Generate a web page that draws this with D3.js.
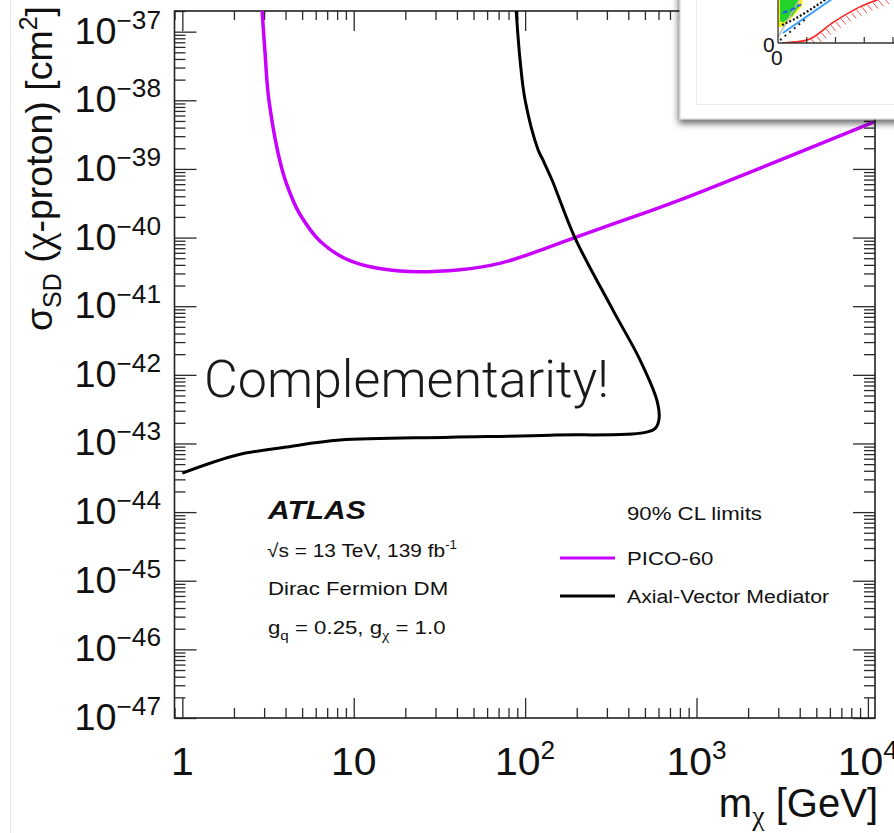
<!DOCTYPE html>
<html>
<head>
<meta charset="utf-8">
<script src="https://cdn.jsdelivr.net/npm/d3@7"></script>
<style>
  html, body { margin: 0; padding: 0; background: #fff; }
  svg { display: block; }
</style>
</head>
<body>
<svg id="chart" width="894" height="833"></svg>
<script>
// ---- limit curves: dark-matter mass (GeV) vs spin-dependent cross-section (cm^2) ----
const picoMass  = [2.92, 3.03, 3.20, 3.81, 4.42, 4.88, 6.35, 9.5, 18.6, 41.7, 71, 122, 195, 513, 796, 10800];
const picoSigma = [2.0e-37, 5.4e-38, 1.0e-38, 1.0e-39, 3.5e-40, 2.13e-40, 8.9e-41, 4.6e-41, 3.25e-41, 3.4e-41, 4.2e-41, 6.5e-41, 1.0e-40, 2.35e-40, 3.5e-40, 4.8e-39];

const avMass  = [88.7, 93.4, 100, 119, 127, 143.5, 195, 326, 468, 588, 603, 564, 140, 36.5, 8.3, 4.08, 2.09, 1.0];
const avSigma = [2.0e-37, 3.9e-38, 1.0e-38, 1.9e-39, 1.35e-39, 6.9e-40, 1.0e-40, 8.7e-42, 1.65e-42, 4.2e-43, 2.2e-43, 1.6e-43, 1.32e-43, 1.23e-43, 1.12e-43, 8.9e-44, 6.8e-44, 3.7e-44];

// ---- axes ----
const xMajorValues = [1, 10, 100, 1000, 10000];
const xMajorBase   = ["1", "10", "10", "10", "10"];
const xMajorExp    = ["", "", "2", "3", "4"];
const yExponents   = [-37, -38, -39, -40, -41, -42, -43, -44, -45, -46, -47];

// ---- legend / annotation text ----
const legendHeader = "90% CL limits";
const legendNames  = ["PICO-60", "Axial-Vector Mediator"];
const legendColors = ["#c800ff", "#000000"];

// ---- small overlaid panel (partial view of another limit plot) ----
const insetRedX   = [0.14, 1.0, 1.93, 2.85, 3.44, 3.7];
const insetRedY   = [0.0, 0.1, 0.73, 1.26, 1.5, 1.6];
const insetBlueX  = [0.17, 1.9];
const insetBlueY  = [0.35, 1.55];
const insetGreyX  = [0.0, 0.76];
const insetGreyY  = [0.2, 1.55];
const insetDotLoX = [0.07, 1.0];
const insetDotLoY = [0.1, 0.87];
const insetDotHiX = [0.14, 0.6, 1.1, 1.7];
const insetDotHiY = [0.63, 0.85, 1.15, 1.55];
const insetDashX  = [0.17, 0.45, 0.8];
const insetDashY  = [1.05, 1.15, 1.35];
const insetYellowX = [0.0, 0.14, 0.5, 0.85, 0.85, 0.0];
const insetYellowY = [0.55, 0.55, 0.9, 1.3, 1.6, 1.6];
const insetGreenX  = [0.07, 0.2, 0.5, 0.7, 0.7, 0.07];
const insetGreenY  = [0.75, 0.72, 0.95, 1.25, 1.6, 1.6];
const insetTicks   = [1, 2, 3, 4];

const svg = d3.select("#chart");
const W = 894, H = 833;
const frame = { left: 174.5, right: 875, top: 11, bottom: 718 };
const rootFont = "'Liberation Sans', Arial, Helvetica, sans-serif";
const greekFont = "'Liberation Serif', 'Times New Roman', serif";
const SX = 1.17; // horizontal stretch of the plot's lettering

// page edge line
svg.append("line")
  .attr("x1", 10.5).attr("x2", 10.5).attr("y1", 0).attr("y2", H)
  .attr("stroke", "#e6e6e6").attr("stroke-width", 1);

const x = d3.scaleLog().domain([0.9, 1.1e4]).range([frame.left, frame.right]);
const y = d3.scaleLog().domain([1e-47, 2e-37]).range([frame.bottom, frame.top]);

// minor tick values
const xMinor = [];
for (let d = -1; d <= 4; d++) for (let k = 2; k <= 9; k++) {
  const v = k * Math.pow(10, d);
  if (v >= 0.9 && v <= 1.1e4) xMinor.push(v);
}
const yMinor = [];
for (let e = -47; e <= -37; e++) for (let k = 2; k <= 9; k++) {
  const v = k * Math.pow(10, e);
  if (v <= 2e-37) yMinor.push(v);
}
const yMajor = yExponents.map(e => Math.pow(10, e));

function tickAxis(gen, tx, ty, values, size) {
  const g = svg.append("g").attr("transform", `translate(${tx},${ty})`)
    .call(gen.tickValues(values).tickSizeInner(-size).tickSizeOuter(0).tickFormat(() => ""));
  g.select(".domain").remove();
  g.selectAll(".tick line").attr("stroke", "#2a2a2a").attr("stroke-width", 1.3);
  g.selectAll(".tick text").remove();
  return g;
}

// ticks on all four sides, pointing inwards
tickAxis(d3.axisBottom(x), 0, frame.bottom, xMajorValues, 20);
tickAxis(d3.axisBottom(x), 0, frame.bottom, xMinor, 10);
tickAxis(d3.axisTop(x), 0, frame.top, xMajorValues, 20);
tickAxis(d3.axisTop(x), 0, frame.top, xMinor, 9);
tickAxis(d3.axisLeft(y), frame.left, 0, yMajor, 22);
tickAxis(d3.axisLeft(y), frame.left, 0, yMinor, 11);
tickAxis(d3.axisRight(y), frame.right, 0, yMajor, 22);
tickAxis(d3.axisRight(y), frame.right, 0, yMinor, 11);

// frame
svg.append("rect")
  .attr("x", frame.left).attr("y", frame.top)
  .attr("width", frame.right - frame.left).attr("height", frame.bottom - frame.top)
  .attr("fill", "none").attr("stroke", "#222").attr("stroke-width", 1.6);

// clip for the curves
svg.append("clipPath").attr("id", "plotClip")
  .append("rect").attr("x", frame.left).attr("y", frame.top)
  .attr("width", frame.right - frame.left).attr("height", frame.bottom - frame.top);

const plot = svg.append("g").attr("clip-path", "url(#plotClip)");

const curveLine = d3.line().x(d => x(d[0])).y(d => y(d[1])).curve(d3.curveCatmullRom.alpha(0.5));

plot.append("path")
  .datum(picoMass.map((m, i) => [m, picoSigma[i]]))
  .attr("d", curveLine)
  .attr("fill", "none").attr("stroke", legendColors[0]).attr("stroke-width", 3.5);

plot.append("path")
  .datum(avMass.map((m, i) => [m, avSigma[i]]))
  .attr("d", curveLine)
  .attr("fill", "none").attr("stroke", legendColors[1]).attr("stroke-width", 3)
  .attr("stroke-linejoin", "round");

// helper for stretched lettering
function label(x0, y0, anchor, size, parts, opts = {}) {
  const t = svg.append("text")
    .attr("transform", `translate(${x0},${y0}) scale(${opts.sx || SX},1)`)
    .attr("text-anchor", anchor)
    .attr("font-family", rootFont)
    .attr("font-size", size)
    .attr("fill", opts.fill || "#111");
  if (opts.weight) t.attr("font-weight", opts.weight);
  if (opts.style) t.attr("font-style", opts.style);
  parts.forEach(p => {
    const s = t.append("tspan").text(p.text);
    if (p.size) s.attr("font-size", p.size);
    if (p.dy) s.attr("dy", p.dy);
    if (p.greek) s.attr("font-family", greekFont);
  });
  return t;
}

// x tick labels
xMajorValues.forEach((v, i) => {
  const parts = [{ text: xMajorBase[i] }];
  if (xMajorExp[i]) parts.push({ text: xMajorExp[i], size: 25, dy: -16 });
  label(x(v), 775, "middle", 39, parts, { sx: 1.05 });
});

// y tick labels
yExponents.forEach(e => {
  label(161, y(Math.pow(10, e)) + 12, "end", 36,
    [{ text: "10" }, { text: "\u2212" + (-e), size: 25, dy: -15 }], { sx: 1.05 });
});

// x axis title
label(878, 817, "end", 40,
  [{ text: "m" }, { text: "\u03c7", size: 28, dy: 8, greek: true }, { text: " [GeV]", dy: -8 }], { sx: 1.0 });

// y axis title (rotated)
svg.append("text")
  .attr("transform", "translate(52,6) rotate(-90)")
  .attr("text-anchor", "end")
  .attr("font-family", rootFont).attr("font-size", 37.5).attr("fill", "#111")
  .call(t => {
    t.append("tspan").text("\u03c3");
    t.append("tspan").text("SD").attr("font-size", 25).attr("dy", 9);
    t.append("tspan").text(" (").attr("dy", -9);
    t.append("tspan").text("\u03c7").attr("font-family", greekFont).attr("font-size", 40);
    t.append("tspan").text("-proton) [cm");
    t.append("tspan").text("2").attr("font-size", 25).attr("dy", -15);
    t.append("tspan").text("]").attr("dy", 15);
  });

// experiment block
label(268, 519, "start", 25, [{ text: "ATLAS" }], { weight: "bold", style: "italic", sx: 1.2 });
label(267, 557, "start", 19, [{ text: "\u221as = 13 TeV, 139 fb" }, { text: "-1", size: 12, dy: -8 }], { sx: 1.1 });
label(268, 595, "start", 19, [{ text: "Dirac Fermion DM" }]);
label(268, 634, "start", 19, [{ text: "g" }, { text: "q", size: 13, dy: 6 }, { text: " = 0.25, g", dy: -6 },
  { text: "\u03c7", size: 14, dy: 6, greek: true }, { text: " = 1.0", dy: -6 }]);

// legend
label(627, 520, "start", 19, [{ text: legendHeader }]);
legendNames.forEach((n, i) => {
  const ly = 558 + i * 38;
  svg.append("line").attr("x1", 560).attr("x2", 615).attr("y1", ly).attr("y2", ly)
    .attr("stroke", legendColors[i]).attr("stroke-width", 3.2);
  label(627, ly + 7, "start", 19, [{ text: n }], { sx: i === 1 ? 1.12 : SX });
});

// slide annotation
svg.append("text")
  .attr("x", 204).attr("y", 397)
  .attr("font-family", "Roboto, 'Open Sans', sans-serif")
  .attr("font-weight", 300).attr("font-size", 52).attr("fill", "#1a1a1a")
  .text("Complementarity!");

// ---- overlaid panel in the top right corner ----
const defs = svg.append("defs");
const shadow = defs.append("filter").attr("id", "panelShadow")
  .attr("x", "-20%").attr("y", "-20%").attr("width", "140%").attr("height", "140%");
shadow.append("feGaussianBlur").attr("in", "SourceAlpha").attr("stdDeviation", 3.5);
shadow.append("feOffset").attr("dx", -1).attr("dy", 4).attr("result", "ob");
shadow.append("feComponentTransfer").append("feFuncA").attr("type", "linear").attr("slope", 0.6);
const fm = shadow.append("feMerge");
fm.append("feMergeNode");
fm.append("feMergeNode").attr("in", "SourceGraphic");

const panel = svg.append("g");
panel.append("rect")
  .attr("x", 680).attr("y", -10).attr("width", 230).attr("height", 129)
  .attr("fill", "#fff").attr("stroke", "#d0d0d0").attr("stroke-width", 1)
  .attr("filter", "url(#panelShadow)");
panel.append("rect")
  .attr("x", 696.5).attr("y", -10).attr("width", 220).attr("height", 114.5)
  .attr("fill", "none").attr("stroke", "#ececec").attr("stroke-width", 1);

const ix = d3.scaleLinear().domain([0, 4]).range([778, 893]);
const iy = d3.scaleLinear().domain([0, 1.5]).range([43, 0]);
const ig = panel.append("g");
ig.append("clipPath").attr("id", "insetClip").append("rect")
  .attr("x", 778).attr("y", 0).attr("width", 116).attr("height", 43);
const inner = ig.append("g").attr("clip-path", "url(#insetClip)");
const pLine = d3.line().x(d => ix(d[0])).y(d => iy(d[1]));
const zipXY = (a, b) => a.map((v, i) => [v, b[i]]);

inner.append("path").datum(zipXY(insetYellowX, insetYellowY))
  .attr("d", d => pLine(d) + "Z").attr("fill", "#f5f020");
inner.append("path").datum(zipXY(insetGreenX, insetGreenY))
  .attr("d", d => pLine(d) + "Z").attr("fill", "#22d42a");
inner.append("path").datum(zipXY(insetGreyX, insetGreyY))
  .attr("d", pLine).attr("fill", "none").attr("stroke", "#bbb").attr("stroke-width", 1.5);
inner.append("path").datum(zipXY(insetDashX, insetDashY))
  .attr("d", pLine).attr("fill", "none").attr("stroke", "#2255ff").attr("stroke-width", 2)
  .attr("stroke-dasharray", "5,3");
inner.append("path").datum(zipXY(insetDotHiX, insetDotHiY))
  .attr("d", d3.line().x(d => ix(d[0])).y(d => iy(d[1])).curve(d3.curveMonotoneX))
  .attr("fill", "none").attr("stroke", "#111").attr("stroke-width", 2.2)
  .attr("stroke-dasharray", "2,2");
inner.append("path").datum(zipXY(insetBlueX, insetBlueY))
  .attr("d", pLine).attr("fill", "none").attr("stroke", "#3aa0ff").attr("stroke-width", 2);
inner.append("path").datum(zipXY(insetDotLoX, insetDotLoY))
  .attr("d", pLine).attr("fill", "none").attr("stroke", "#222").attr("stroke-width", 2)
  .attr("stroke-dasharray", "2,4");
const red = inner.append("path").datum(zipXY(insetRedX, insetRedY))
  .attr("d", d3.line().x(d => ix(d[0])).y(d => iy(d[1])).curve(d3.curveMonotoneX))
  .attr("fill", "none").attr("stroke", "#ff2020").attr("stroke-width", 1.6);
// hatching on the excluded side of the red curve
const rn = red.node(), rl = rn.getTotalLength();
for (let s = 18; s < rl; s += 6) {
  const p = rn.getPointAtLength(s);
  inner.append("line").attr("x1", p.x).attr("y1", p.y + 1)
    .attr("x2", p.x + 5).attr("y2", p.y + 7)
    .attr("stroke", "#ff5050").attr("stroke-width", 1);
}
// panel axes
ig.append("line").attr("x1", 778).attr("x2", 778).attr("y1", 0).attr("y2", 43)
  .attr("stroke", "#333").attr("stroke-width", 1.3);
ig.append("line").attr("x1", 778).attr("x2", 894).attr("y1", 43).attr("y2", 43)
  .attr("stroke", "#333").attr("stroke-width", 1.3);
insetTicks.forEach(t => {
  ig.append("line").attr("x1", ix(t)).attr("x2", ix(t)).attr("y1", 43).attr("y2", 37)
    .attr("stroke", "#333").attr("stroke-width", 1.2);
});
ig.append("text").attr("x", 763).attr("y", 52).attr("font-family", rootFont)
  .attr("font-size", 21).attr("fill", "#111").text("0");
ig.append("text").attr("x", 771).attr("y", 65).attr("font-family", rootFont)
  .attr("font-size", 21).attr("fill", "#111").text("0");
</script>
</body>
</html>
